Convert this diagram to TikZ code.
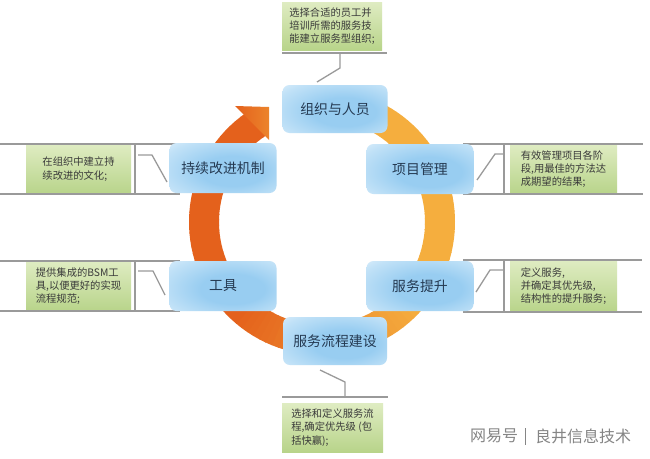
\documentclass[tikz,border=0pt]{standalone}
\usepackage{fontspec}
\setmainfont{Noto Sans CJK SC}
\definecolor{ringY}{HTML}{F5AE3E}
\definecolor{ringO}{HTML}{E4611C}
\definecolor{blueIn}{HTML}{98CDF1}
\definecolor{blueMid}{HTML}{C0E1F7}
\definecolor{blueOut}{HTML}{F0F8FE}
\definecolor{bluetext}{HTML}{253A52}
\definecolor{greenTop}{HTML}{DFECC2}
\definecolor{greenBot}{HTML}{B8D48A}
\definecolor{textgray}{HTML}{3A3A3A}
\definecolor{linegray}{HTML}{9A9A9A}
\definecolor{marktext}{HTML}{858585}
\pgfdeclareradialshading{boxglow}{\pgfpoint{6bp}{-4bp}}{%
  color(0bp)=(blueIn); color(15bp)=(blueIn); color(32bp)=(blueMid);
  color(47bp)=(blueOut); color(60bp)=(blueOut)}
\begin{document}
\begin{tikzpicture}[x=1pt,y=-1pt,
  bluebox/.style={shade, shading=boxglow, rounded corners=7pt,
    minimum width=107pt, minimum height=50pt, text=bluetext,
    font=\fontsize{13.9}{16}\selectfont, inner sep=0pt},
  greenbox/.style={shade, top color=greenTop, bottom color=greenBot, align=left,
    text=textgray, font=\fontsize{10.3}{13.3}\selectfont, inner sep=0pt},
  guide/.style={draw=linegray, line width=1.3pt},
  wmark/.style={text=marktext, font=\fontsize{16}{16}\selectfont, inner sep=0pt}]
\useasboundingbox[fill=white] (0,0) rectangle (650,458);

% ring
\begin{scope}[shift={(322,222)}]
\foreach \a in {-80,-77,...,235} {
  \pgfmathtruncatemacro\p{\a<40 ? 0 : (\a>130 ? 100 : (\a-40)/0.9)}
  \fill[ringO!\p!ringY] (\a:133) arc[start angle=\a, end angle=\a+3.4, radius=133]
    -- (\a+3.4:103) arc[start angle=\a+3.4, end angle=\a, radius=103] -- cycle;
}
\end{scope}
\shade[left color=ringO, right color=ringO!55!ringY] (235,106) -- (269,107) -- (269,140) -- cycle;

% green boxes
\node[greenbox, minimum width=100pt, minimum height=48pt] (gtop) at (332,26)
  {选择合适的员工并\\培训所需的服务技\\能建立服务型组织;};
\node[greenbox, minimum width=105pt, minimum height=50pt] (gl1) at (78.5,169)
  {在组织中建立持\\续改进的文化;};
\node[greenbox, minimum width=105pt, minimum height=50pt] (gl2) at (78.5,286)
  {提供集成的BSM工\\具,以便更好的实现\\流程规范;};
\node[greenbox, minimum width=107pt, minimum height=50pt] (gr1) at (563.5,169)
  {有效管理项目各阶\\段,用最佳的方法达\\成期望的结果;};
\node[greenbox, minimum width=107pt, minimum height=52pt] (gr2) at (563.5,286)
  {定义服务,\\并确定其优先级,\\结构性的提升服务;};
\node[greenbox, minimum width=101pt, minimum height=49pt] (gbot) at (332.5,427.5)
  {选择和定义服务流\\程,确定优先级 (包\\括快赢);};

% guide lines
\draw[guide] (282,53) -- (387,53);
\draw[guide] (282,397) -- (388,397);
\draw[guide] (0,144) -- (180,144);
\draw[guide] (0,194) -- (180,194);
\draw[guide] (135,144) -- (135,194);
\draw[guide] (0,261) -- (180,261);
\draw[guide] (0,311) -- (180,311);
\draw[guide] (135,261) -- (135,311);
\draw[guide] (463,144) -- (643,144);
\draw[guide] (463,194) -- (643,194);
\draw[guide] (504,144) -- (504,194);
\draw[guide] (463,260) -- (642,260);
\draw[guide] (463,312) -- (642,312);
\draw[guide] (504,260) -- (504,312);

% blue boxes
\node[bluebox, minimum width=105pt, minimum height=48pt] (org) at (335,109) {组织与人员};
\node[bluebox] (cim) at (223,168) {持续改进机制};
\node[bluebox] (pm) at (420,169) {项目管理};
\node[bluebox] (tool) at (223,286) {工具};
\node[bluebox] (svc) at (420,286) {服务提升};
\node[bluebox, minimum width=104pt, minimum height=48pt] (flow) at (335,341) {服务流程建设};

% connectors
\coordinate (ct1) at (340,53);
\coordinate (ct2) at (317,82);
\draw[guide] (ct1) -- (340,68) -- (ct2);
\coordinate (cb1) at (320,370);
\coordinate (cb2) at (345,397);
\draw[guide] (cb1) -- (345,382) -- (cb2);
\coordinate (cl1) at (138,155);
\coordinate (cl2) at (167,182);
\draw[guide] (cl1) -- (152,155) -- (cl2);
\coordinate (cl3) at (138,271);
\coordinate (cl4) at (165,295);
\draw[guide] (cl3) -- (153,271) -- (cl4);
\coordinate (cr1) at (503,154);
\coordinate (cr2) at (477,180);
\draw[guide] (cr1) -- (495,154) -- (cr2);
\coordinate (cr3) at (503,270);
\coordinate (cr4) at (476,292);
\draw[guide] (cr3) -- (490,270) -- (cr4);

% watermark
\node[wmark] (wm1) at (494,436) {网易号};
\draw[marktext, line width=0.8pt] (525,428) -- (525,445);
\node[wmark] (wm2) at (583,436) {良井信息技术};
\end{tikzpicture}
\end{document}
